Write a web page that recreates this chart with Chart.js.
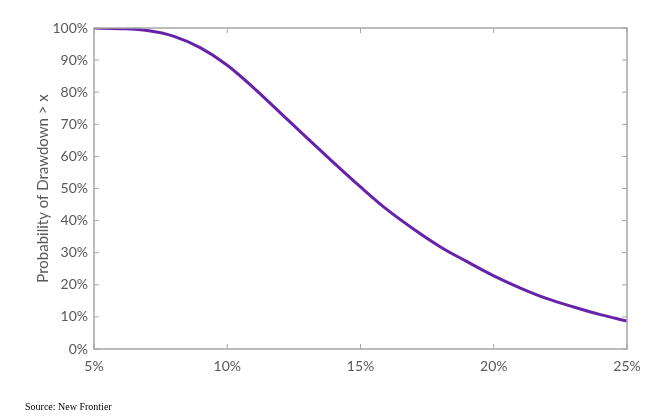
<!DOCTYPE html>
<html>
<head>
<meta charset="utf-8">
<script src="https://cdn.jsdelivr.net/npm/chart.js@4/dist/chart.umd.min.js"></script>
<style>
  html, body { margin: 0; padding: 0; background: #fff; }
  #wrap { width: 655px; height: 417px; position: relative; }
</style>
</head>
<body>
<div id="wrap"><canvas id="chart"></canvas></div>
<script>
// drawdown level (%)
const drawdown = [5, 6, 7, 8, 9, 10, 11, 12, 13, 14, 15, 16, 17, 18, 19, 20, 21, 22, 23, 24, 25];
// probability of drawdown > x (%)
const probability = [100, 99.8, 99.2, 97.4, 93.8, 88.4, 81.3, 73.5, 65.7, 58, 50.5, 43.4, 37.3, 31.8, 27.2, 22.8, 19, 15.7, 13.1, 10.7, 8.7];
const xTicks = [5, 10, 15, 20, 25];
const yTicks = [0, 10, 20, 30, 40, 50, 60, 70, 80, 90, 100];
const sourceNote = 'Source: New Frontier';

const axisGrey = '#a6a6a6';
const labelGrey = '#595959';

// box frame + inward tick marks on all four sides
const framePlugin = {
  id: 'frame',
  afterDraw(chart) {
    const { ctx, chartArea: a, scales: { x, y } } = chart;
    ctx.save();
    ctx.strokeStyle = axisGrey;
    ctx.lineWidth = 1.5;
    ctx.strokeRect(a.left, a.top, a.right - a.left, a.bottom - a.top);
    ctx.lineWidth = 1;
    const len = 5;
    ctx.beginPath();
    xTicks.forEach(v => {
      const px = x.getPixelForValue(v);
      ctx.moveTo(px, a.bottom); ctx.lineTo(px, a.bottom - len);
      ctx.moveTo(px, a.top); ctx.lineTo(px, a.top + len);
    });
    yTicks.forEach(v => {
      const py = y.getPixelForValue(v);
      ctx.moveTo(a.left, py); ctx.lineTo(a.left + len, py);
      ctx.moveTo(a.right, py); ctx.lineTo(a.right - len, py);
    });
    ctx.stroke();

    // source footnote
    ctx.fillStyle = '#000';
    ctx.font = '10px "Liberation Serif", serif';
    ctx.textBaseline = 'middle';
    ctx.fillText(sourceNote, 25, 407);
    ctx.restore();
  }
};

new Chart(document.getElementById('chart'), {
  type: 'line',
  data: {
    datasets: [{
      data: drawdown.map((d, i) => ({ x: d, y: probability[i] })),
      borderColor: '#6622aa',
      borderWidth: 3,
      pointRadius: 0,
      cubicInterpolationMode: 'monotone',
      fill: false
    }]
  },
  options: {
    responsive: true,
    maintainAspectRatio: false,
    animation: false,
    layout: { padding: { left: 30, right: 28, top: 28, bottom: 38 } },
    plugins: { legend: { display: false }, tooltip: { enabled: false } },
    scales: {
      x: {
        type: 'linear',
        min: 5,
        max: 25,
        afterBuildTicks: s => { s.ticks = xTicks.map(v => ({ value: v })); },
        afterFit: s => { s.height = 30; },
        grid: { display: false, drawTicks: false },
        border: { display: false },
        ticks: {
          padding: 9,
          color: labelGrey,
          font: { family: 'Lato', size: 14 },
          callback: v => v + '%'
        }
      },
      y: {
        min: 0,
        max: 100,
        afterBuildTicks: s => { s.ticks = yTicks.map(v => ({ value: v })); },
        afterFit: s => { s.width = 64; },
        grid: { display: false, drawTicks: false },
        border: { display: false },
        title: {
          display: true,
          text: 'Probability of Drawdown > x',
          color: labelGrey,
          font: { family: 'Lato', size: 15 },
          padding: { top: 4, bottom: 0 }
        },
        ticks: {
          padding: 6,
          color: labelGrey,
          font: { family: 'Lato', size: 14 },
          callback: v => v + '%'
        }
      }
    }
  },
  plugins: [framePlugin]
});
</script>
</body>
</html>
